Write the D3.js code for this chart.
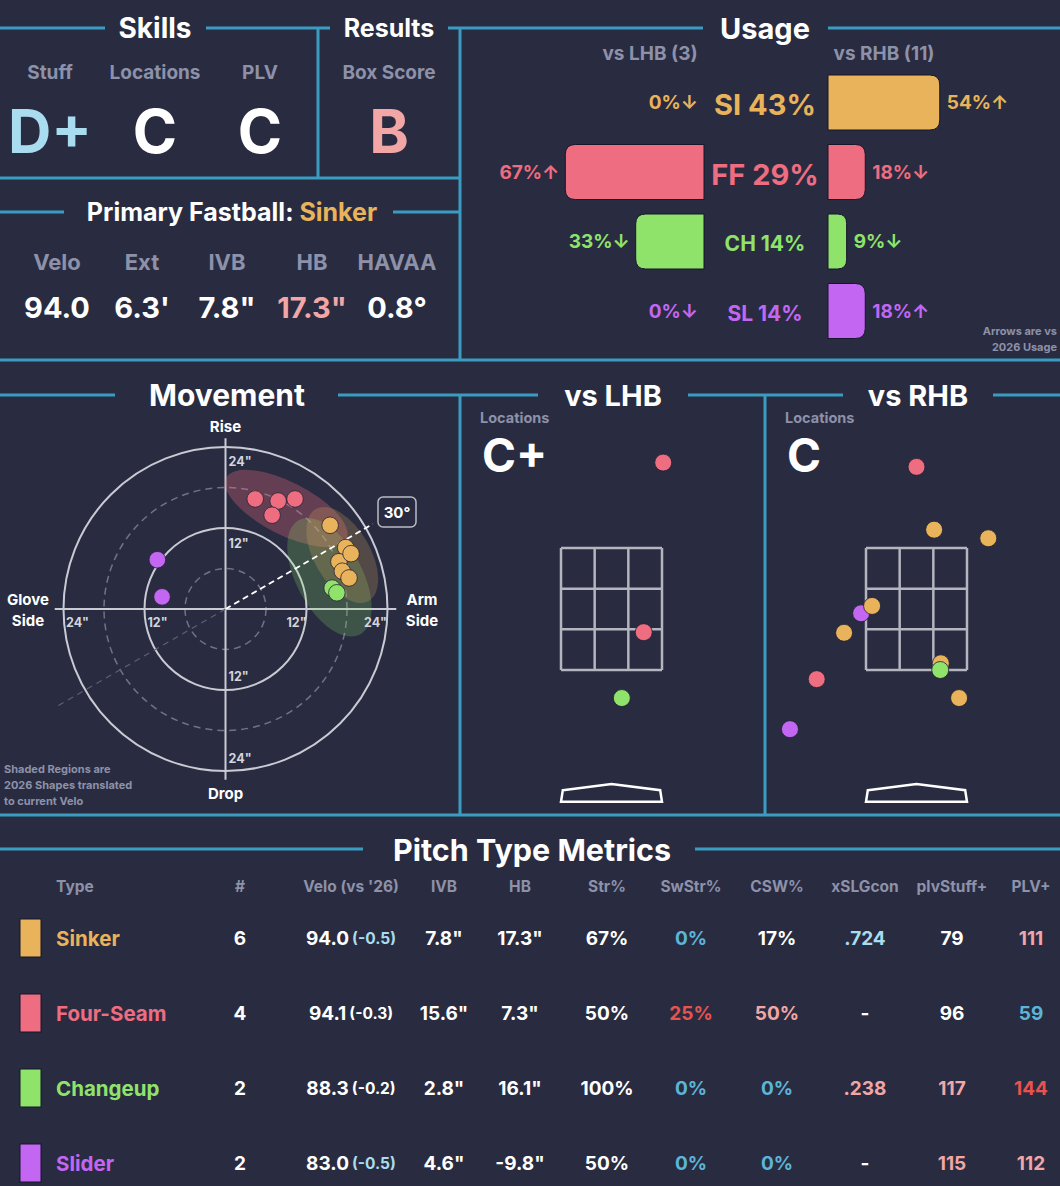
<!DOCTYPE html>
<html lang="en">
<head>
<meta charset="utf-8">
<title>pitcher card</title>
<script src="https://d3js.org/d3.v7.min.js"></script>
<style>
  body { margin: 0; background: #292c40; }
  text { font-family: Inter, Lato, "DejaVu Sans", sans-serif; font-weight: 700; }
</style>
</head>
<body>
<script>

// ---- data ----
var pitchNames = ["Sinker", "Four-Seam", "Changeup", "Slider"];
var pitchCodes = ["SI", "FF", "CH", "SL"];
var pitchColors = ["#e9b35b", "#ee6d81", "#8fe36b", "#c367f3"];

var skillLabels = ["Stuff", "Locations", "PLV"];
var skillGrades = ["D+", "C", "C"];
var resultLabels = ["Box Score"];
var resultGrades = ["B"];

var fbName = "Sinker";
var fbLabels = ["Velo", "Ext", "IVB", "HB", "HAVAA"];
var fbValues = ["94.0", "6.3'", "7.8\"", "17.3\"", "0.8°"];

var usageAll = [43, 29, 14, 14];
var usageL = [0, 67, 33, 0];
var usageR = [54, 18, 9, 18];
var trendL = ["↓", "↑", "↓", "↓"];
var trendR = ["↑", "↓", "↓", "↑"];
var countL = 3, countR = 11;

// movement, inches (HB positive = arm side)
var mvType = ["FF", "FF", "FF", "FF", "SI", "SI", "SI", "SI", "SI", "SI", "CH", "CH", "SL", "SL"];
var mvHB  = [4.4, 7.8, 10.3, 6.9, 15.5, 17.8, 16.8, 18.6, 17.3, 18.3, 15.8, 16.5, -10.1, -9.4];
var mvIVB = [16.3, 16.0, 16.3, 13.9, 12.4, 9.1, 7.0, 8.2, 5.6, 4.6, 3.1, 2.4, 7.3, 1.8];

// 2026 shapes (ellipses, inches / degrees)
var shapeType = ["FF", "CH", "SI"];
var shapeHB = [9.0, 15.4, 17.3];
var shapeIVB = [14.9, 4.7, 8.0];
var shapeA = [10.0, 9.6, 7.85];
var shapeB = [3.9, 4.9, 4.15];
var shapeAngle = [27, 62, 60];
var armAngle = 30;

// locations, feet
var lhbGrade = "C+", rhbGrade = "C";
var lhbType = ["FF", "FF", "CH"];
var lhbX = [0.85, 0.53, 0.17];
var lhbZ = [4.90, 2.12, 1.04];
var rhbType = ["SL", "SL", "SI", "SI", "SI", "SI", "SI", "SI", "FF", "FF", "CH"];
var rhbX = [-0.91, -2.08, 0.29, 1.18, -0.73, -1.19, 0.40, 0.70, 0.00, -1.64, 0.39];
var rhbZ = [2.43, 0.53, 3.80, 3.66, 2.55, 2.11, 1.61, 1.04, 4.83, 1.35, 1.50];

// pitch type metrics
var tblHeaders = ["Type", "#", "Velo (vs '26)", "IVB", "HB", "Str%", "SwStr%", "CSW%", "xSLGcon", "plvStuff+", "PLV+"];
var tblCount = [6, 4, 2, 2];
var tblVelo = [94.0, 94.1, 88.3, 83.0];
var tblVeloDiff = [-0.5, -0.3, -0.2, -0.5];
var tblIVB = [7.8, 15.6, 2.8, 4.6];
var tblHB = [17.3, 7.3, 16.1, -9.8];
var tblStr = [67, 50, 100, 50];
var tblSwStr = [0, 25, 0, 0];
var tblCSW = [17, 50, 0, 0];
var tblXslg = [0.724, null, 0.238, null];
var tblStuff = [79, 96, 117, 115];
var tblPLV = [111, 59, 144, 112];

// ---- setup ----
var W = 1060, H = 1186;
var C = { bg: "#292c40", line: "#3b9cc1", grey: "#8d91a9", white: "#ffffff",
          lblue: "#a9dcee", blue: "#5cb5d8", pink: "#f2a6a6", red: "#e8524f", ring: "#c9cad3" };
var pcol = d3.scaleOrdinal().domain(pitchCodes).range(pitchColors);
var gradeCol = d3.scaleOrdinal().domain(["D+", "C+", "C", "B"]).range([C.lblue, C.white, C.white, C.pink]);

var svg = d3.select("body").append("svg").attr("width", W).attr("height", H);
svg.append("rect").attr("width", W).attr("height", H).attr("fill", C.bg);

function label(g, x, y, s, size, color, anchor, weight) {
  return g.append("text")
    .attr("x", x).attr("y", y)
    .attr("text-anchor", anchor || "middle")
    .attr("dominant-baseline", "central")
    .attr("font-size", size)
    .attr("font-weight", weight || 700)
    .attr("fill", color)
    .text(s);
}

// dividers
var hSegs = [[28, 0, 105], [28, 206, 330], [28, 448, 703], [28, 828, 1060], [178, 0, 460],
             [212, 0, 64], [212, 393, 460], [360, 0, 1060],
             [395, 0, 115], [395, 338, 538], [395, 688, 843], [395, 993, 1060],
             [815, 0, 1060], [849, 0, 363], [849, 695, 1060]];
var vSegs = [[318, 28, 178], [460, 28, 360], [460, 395, 815], [765, 395, 815]];
var lines = svg.append("g").attr("stroke", C.line).attr("stroke-width", 3);
lines.selectAll("line.h").data(hSegs).enter().append("line")
  .attr("x1", d => d[1]).attr("x2", d => d[2]).attr("y1", d => d[0]).attr("y2", d => d[0]);
lines.selectAll("line.v").data(vSegs).enter().append("line")
  .attr("x1", d => d[0]).attr("x2", d => d[0]).attr("y1", d => d[1]).attr("y2", d => d[2]);

// ---- skills / results ----
var sk = svg.append("g");
label(sk, 155, 28, "Skills", 28, C.white);
label(sk, 389, 28, "Results", 25, C.white);
var skillX = d3.scalePoint().domain(skillLabels).range([50, 260]);
skillLabels.forEach(function (s, i) {
  label(sk, skillX(s), 72, s, 19, C.grey, "middle", 600);
  label(sk, skillX(s), 131, skillGrades[i], 60, gradeCol(skillGrades[i]));
});
resultLabels.forEach(function (s, i) {
  label(sk, 389, 72, s, 19, C.grey, "middle", 600);
  label(sk, 389, 131, resultGrades[i], 60, gradeCol(resultGrades[i]));
});

var pf = label(sk, 232, 212, "Primary Fastball: ", 25, C.white, "middle", 600);
pf.append("tspan").attr("fill", pitchColors[0]).text(fbName);
var fbX = d3.scalePoint().domain(fbLabels).range([57, 397]);
fbLabels.forEach(function (s, i) {
  label(sk, fbX(s), 262, s, 22, C.grey, "middle", 600);
  label(sk, fbX(s), 307, fbValues[i], 29, s === "HB" ? C.pink : C.white, "middle", 600);
});

// ---- usage ----
var us = svg.append("g");
label(us, 765, 28, "Usage", 29, C.white);
label(us, 650, 53, "vs LHB (" + countL + ")", 19, C.grey, "middle", 600);
label(us, 884, 53, "vs RHB (" + countR + ")", 19, C.grey, "middle", 600);
label(us, 1057, 331, "Arrows are vs", 11, C.grey, "end", 600);
label(us, 1057, 347, "2026 Usage", 11, C.grey, "end", 600);

var uy = d3.scalePoint().domain(pitchCodes).range([102.5, 311]);
var uw = d3.scaleLinear().domain([0, 100]).range([0, 207]);
var uSize = d3.scaleLinear().domain([14, 29]).range([21, 29]).clamp(true);
var barH = 55, rad = 10, xr0 = 828, xl0 = 704;

function barPath(x0, w, yc, dir) {
  var r = Math.min(rad, w / 2), y0 = yc - barH / 2, y1 = yc + barH / 2, x1 = x0 + dir * w;
  var p = d3.path();
  p.moveTo(x0, y0);
  p.lineTo(x1 - dir * r, y0);
  p.quadraticCurveTo(x1, y0, x1, y0 + r);
  p.lineTo(x1, y1 - r);
  p.quadraticCurveTo(x1, y1, x1 - dir * r, y1);
  p.lineTo(x0, y1);
  p.closePath();
  return p.toString();
}

pitchCodes.forEach(function (c, i) {
  var y = uy(c), col = pcol(c);
  if (usageR[i] > 0) us.append("path").attr("d", barPath(xr0, uw(usageR[i]), y, 1))
    .attr("fill", col).attr("stroke", "#15172a").attr("stroke-width", 1);
  if (usageL[i] > 0) us.append("path").attr("d", barPath(xl0, uw(usageL[i]), y, -1))
    .attr("fill", col).attr("stroke", "#15172a").attr("stroke-width", 1);
  label(us, xr0 + uw(usageR[i]) + 7, y, usageR[i] + "%" + trendR[i], 19, col, "start", 600);
  label(us, xl0 - uw(usageL[i]) - 6, y, usageL[i] + "%" + trendL[i], 19, col, "end", 600);
  label(us, 765, y + 2, c + " " + usageAll[i] + "%", uSize(usageAll[i]), col, "middle", 600);
});

// ---- movement ----
var mv = svg.append("g");
var cx = 225.5, cy = 609;
var rr = d3.scaleLinear().domain([0, 24]).range([0, 162]);
var xM = d3.scaleLinear().domain([-24, 24]).range([cx - 162, cx + 162]);
var yM = d3.scaleLinear().domain([-24, 24]).range([cy + 162, cy - 162]);

label(mv, 227, 395, "Movement", 30, C.white);

[6, 18].forEach(function (v) {
  mv.append("circle").attr("cx", cx).attr("cy", cy).attr("r", rr(v))
    .attr("fill", "none").attr("stroke", "#707388").attr("stroke-width", 1.5).attr("stroke-dasharray", "7,5");
});
[12, 24].forEach(function (v) {
  mv.append("circle").attr("cx", cx).attr("cy", cy).attr("r", rr(v))
    .attr("fill", "none").attr("stroke", C.ring).attr("stroke-width", 2);
});
mv.append("line").attr("x1", xM(-25.3)).attr("x2", xM(25.3)).attr("y1", cy).attr("y2", cy)
  .attr("stroke", C.ring).attr("stroke-width", 2);
mv.append("line").attr("x1", cx).attr("x2", cx).attr("y1", yM(25.3)).attr("y2", yM(-25.3))
  .attr("stroke", C.ring).attr("stroke-width", 2);

// faint opposite arm angle line
var rad30 = armAngle * Math.PI / 180;
mv.append("line").attr("x1", cx).attr("y1", cy)
  .attr("x2", cx - rr(29) * Math.cos(rad30)).attr("y2", cy + rr(29) * Math.sin(rad30))
  .attr("stroke", "#5d6075").attr("stroke-width", 1.2).attr("stroke-dasharray", "6,5");

// shapes
shapeType.forEach(function (t, i) {
  mv.append("ellipse")
    .attr("transform", "translate(" + xM(shapeHB[i]) + "," + yM(shapeIVB[i]) + ") rotate(" + shapeAngle[i] + ")")
    .attr("rx", rr(shapeA[i])).attr("ry", rr(shapeB[i]))
    .attr("fill", pcol(t)).attr("fill-opacity", t === "FF" ? 0.3 : 0.22);
});

// arm angle line
mv.append("line").attr("x1", cx).attr("y1", cy)
  .attr("x2", cx + rr(25.2) * Math.cos(rad30)).attr("y2", cy - rr(25.2) * Math.sin(rad30))
  .attr("stroke", C.white).attr("stroke-width", 2).attr("stroke-dasharray", "6,4");
mv.append("rect").attr("x", 378).attr("y", 497).attr("width", 38).attr("height", 30).attr("rx", 5)
  .attr("fill", C.bg).attr("stroke", "#b9bac4").attr("stroke-width", 1.5);
label(mv, 397, 512, armAngle + "°", 15, C.white, "middle", 600);

// tick labels
var tc = "#d4d5dc";
label(mv, cx + 3, yM(24) + 14, "24\"", 12.5, tc, "start", 600);
label(mv, cx + 3, yM(12) + 15, "12\"", 12.5, tc, "start", 600);
label(mv, cx + 3, yM(-12) - 14, "12\"", 12.5, tc, "start", 600);
label(mv, cx + 3, yM(-24) - 13, "24\"", 12.5, tc, "start", 600);
label(mv, xM(-24) + 14, cy + 13, "24\"", 12.5, tc, "middle", 600);
label(mv, xM(-12) + 13, cy + 13, "12\"", 12.5, tc, "middle", 600);
label(mv, xM(12) - 10, cy + 13, "12\"", 12.5, tc, "middle", 600);
label(mv, xM(24) - 12, cy + 13, "24\"", 12.5, tc, "middle", 600);

label(mv, cx, 426, "Rise", 15, C.white, "middle", 600);
label(mv, cx, 793, "Drop", 15, C.white, "middle", 600);
label(mv, 28, 599, "Glove", 15, C.white, "middle", 600);
label(mv, 28, 620, "Side", 15, C.white, "middle", 600);
label(mv, 422, 599, "Arm", 15, C.white, "middle", 600);
label(mv, 422, 620, "Side", 15, C.white, "middle", 600);

label(mv, 4, 769, "Shaded Regions are", 11, C.grey, "start", 600);
label(mv, 4, 785, "2026 Shapes translated", 11, C.grey, "start", 600);
label(mv, 4, 801, "to current Velo", 11, C.grey, "start", 600);

var mvPts = mvType.map(function (t, i) { return { t: t, hb: mvHB[i], ivb: mvIVB[i] }; });
mv.selectAll("circle.pt").data(mvPts).enter().append("circle").attr("class", "pt")
  .attr("cx", d => xM(d.hb)).attr("cy", d => yM(d.ivb)).attr("r", 8.3)
  .attr("fill", d => pcol(d.t)).attr("stroke", "#2a2233").attr("stroke-width", 0.8);

// ---- locations ----
function locPanel(x0, title, grade, types, xs, zs) {
  var g = svg.append("g");
  var zl = x0 + 101;
  var xs_ = d3.scaleLinear().domain([-0.83, 0.83]).range([zl, zl + 101]);
  var ys_ = d3.scaleLinear().domain([1.5, 3.5]).range([670, 548]);
  label(g, x0 + 153, 395, title, 29, C.white);
  label(g, x0 + 20, 417, "Locations", 14.5, C.grey, "start", 600);
  label(g, x0 + 22, 455, grade, 46, gradeCol(grade), "start");

  var gx = d3.range(4).map(i => -0.83 + i * 1.66 / 3);
  var gz = d3.range(4).map(i => 1.5 + i * 2 / 3);
  var grid = g.append("g").attr("stroke", "#b4b5bf").attr("stroke-width", 2.5);
  gx.forEach(v => grid.append("line").attr("x1", xs_(v)).attr("x2", xs_(v)).attr("y1", ys_(1.5)).attr("y2", ys_(3.5)));
  gz.forEach(v => grid.append("line").attr("y1", ys_(v)).attr("y2", ys_(v)).attr("x1", xs_(-0.83)).attr("x2", xs_(0.83)));

  var plate = [[-0.80, -0.47], [0, -0.37], [0.80, -0.47], [0.83, -0.66], [-0.83, -0.66]];
  g.append("path").attr("d", d3.line().x(d => xs_(d[0])).y(d => ys_(d[1]))(plate) + "Z")
    .attr("fill", "none").attr("stroke", C.white).attr("stroke-width", 2.5);

  var pts = types.map((t, i) => ({ t: t, x: xs[i], z: zs[i] }));
  g.selectAll("circle.loc").data(pts).enter().append("circle").attr("class", "loc")
    .attr("cx", d => xs_(d.x)).attr("cy", d => ys_(d.z)).attr("r", 8.5)
    .attr("fill", d => pcol(d.t)).attr("stroke", "#1d1f30").attr("stroke-width", 0.8);
}
locPanel(460, "vs LHB", lhbGrade, lhbType, lhbX, lhbZ);
locPanel(765, "vs RHB", rhbGrade, rhbType, rhbX, rhbZ);

// ---- table ----
var tb = svg.append("g");
label(tb, 532, 849, "Pitch Type Metrics", 30.5, C.white, "middle", 600);
var colX = [56, 240, 351, 444, 520, 607, 691, 777, 865, 952, 1031];
tblHeaders.forEach(function (h, i) {
  label(tb, colX[i], 886, h, 15.5, C.grey, i === 0 ? "start" : "middle", 600);
});
var ty = d3.scalePoint().domain(pitchNames).range([938, 1163]);

var diffCol = d3.scaleThreshold().domain([-0.4]).range([C.lblue, C.white]);
var swCol = d3.scaleThreshold().domain([5, 20]).range([C.blue, C.white, C.red]);
var cswCol = d3.scaleThreshold().domain([10, 30, 60]).range([C.blue, C.white, C.pink, C.red]);
var xslgCol = d3.scaleThreshold().domain([0.3, 0.6]).range([C.pink, C.white, C.lblue]);
var stuffCol = d3.scaleThreshold().domain([70, 110, 130]).range([C.blue, C.white, C.pink, C.red]);
var plvCol = d3.scaleThreshold().domain([80, 105, 130]).range([C.blue, C.white, C.pink, C.red]);

pitchNames.forEach(function (n, i) {
  var y = ty(n), col = pitchColors[i];
  tb.append("rect").attr("x", 20).attr("y", y - 19).attr("width", 21).attr("height", 38)
    .attr("fill", col).attr("stroke", "#14162a").attr("stroke-width", 1);
  label(tb, colX[0], y, n, 20.5, col, "start", 600);
  label(tb, colX[1], y, tblCount[i], 19, C.white, "middle", 600);
  var v = label(tb, colX[2], y, tblVelo[i].toFixed(1), 19, C.white, "middle", 600);
  v.append("tspan").attr("dx", 3).attr("font-size", 15.5).attr("fill", diffCol(tblVeloDiff[i]))
    .text("(" + tblVeloDiff[i].toFixed(1) + ")");
  label(tb, colX[3], y, tblIVB[i].toFixed(1) + "\"", 19, C.white, "middle", 600);
  label(tb, colX[4], y, tblHB[i].toFixed(1) + "\"", 19, C.white, "middle", 600);
  label(tb, colX[5], y, tblStr[i] + "%", 19, C.white, "middle", 600);
  label(tb, colX[6], y, tblSwStr[i] + "%", 19, swCol(tblSwStr[i]), "middle", 600);
  label(tb, colX[7], y, tblCSW[i] + "%", 19, cswCol(tblCSW[i]), "middle", 600);
  label(tb, colX[8], y, tblXslg[i] == null ? "-" : tblXslg[i].toFixed(3).replace(/^0/, ""), 19,
        tblXslg[i] == null ? C.white : xslgCol(tblXslg[i]), "middle", 600);
  label(tb, colX[9], y, tblStuff[i], 19, stuffCol(tblStuff[i]), "middle", 600);
  label(tb, colX[10], y, tblPLV[i], 19, plvCol(tblPLV[i]), "middle", 600);
});

</script>
</body>
</html>
